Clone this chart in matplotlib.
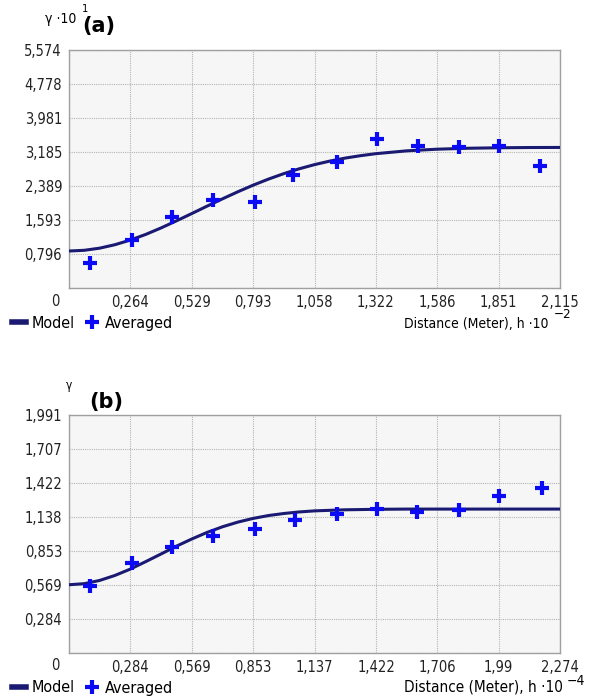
import matplotlib
matplotlib.use('Agg')
import matplotlib.pyplot as plt
from matplotlib.lines import Line2D

plt.rcParams['font.family'] = ['DejaVu Sans']
plt.rcParams['font.stretch'] = 'condensed'

# (a) lag distance in 10^-2 m, semivariance in 10^1
a_lag = [0.090, 0.270, 0.442, 0.621, 0.800, 0.966, 1.153, 1.325, 1.504, 1.679, 1.853, 2.031]
a_avg = [0.578, 1.124, 1.669, 2.060, 2.006, 2.646, 2.942, 3.488, 3.332, 3.294, 3.332, 2.863]
a_model_h = [0, 0.066, 0.132, 0.198, 0.264, 0.331, 0.397, 0.463, 0.529, 0.595, 0.661,
             0.727, 0.793, 0.859, 0.925, 0.991, 1.058, 1.124, 1.190, 1.256, 1.322,
             1.454, 1.586, 1.719, 1.851, 1.983, 2.115]
a_model = [0.866, 0.883, 0.933, 1.014, 1.123, 1.256, 1.408, 1.573, 1.744, 1.918, 2.088,
           2.253, 2.408, 2.550, 2.678, 2.791, 2.890, 2.973, 3.043, 3.099, 3.146,
           3.212, 3.251, 3.273, 3.284, 3.290, 3.292]
a_xticks = [0, 0.264, 0.529, 0.793, 1.058, 1.322, 1.586, 1.851, 2.115]
a_xlabels = ['', '0,264', '0,529', '0,793', '1,058', '1,322', '1,586', '1,851', '2,115']
a_yticks = [0, 0.796, 1.593, 2.389, 3.185, 3.981, 4.778, 5.574]
a_ylabels = ['', '0,796', '1,593', '2,389', '3,185', '3,981', '4,778', '5,574']

# (b) lag distance in 10^-4 m
b_lag = [0.097, 0.290, 0.476, 0.668, 0.861, 1.047, 1.240, 1.425, 1.613, 1.806, 1.993, 2.189]
b_avg = [0.557, 0.753, 0.883, 0.975, 1.040, 1.115, 1.163, 1.207, 1.176, 1.199, 1.316, 1.380]
b_model_h = [0, 0.071, 0.142, 0.213, 0.284, 0.356, 0.427, 0.498, 0.569, 0.640, 0.711,
             0.782, 0.853, 0.924, 0.995, 1.066, 1.137, 1.279, 1.422, 1.564, 1.706,
             1.848, 1.990, 2.132, 2.274]
b_model = [0.571, 0.580, 0.607, 0.649, 0.702, 0.765, 0.829, 0.894, 0.954, 1.009, 1.056,
           1.095, 1.126, 1.150, 1.167, 1.180, 1.189, 1.198, 1.202, 1.204, 1.204,
           1.204, 1.204, 1.204, 1.204]
b_xticks = [0, 0.284, 0.569, 0.853, 1.137, 1.422, 1.706, 1.99, 2.274]
b_xlabels = ['', '0,284', '0,569', '0,853', '1,137', '1,422', '1,706', '1,99', '2,274']
b_yticks = [0, 0.284, 0.569, 0.853, 1.138, 1.422, 1.707, 1.991]
b_ylabels = ['', '0,284', '0,569', '0,853', '1,138', '1,422', '1,707', '1,991']

W, H = 592, 698
fig = plt.figure(figsize=(W / 100, H / 100), dpi=100)

model_col = '#1a1a72'
pt_col = '#0a0af5'
fs = 10.5


def panel(top, lag, avg, mh, mv, xt, xl, yt, yl):
    ax = fig.add_axes([69 / W, 1 - (top + 238) / H, 491 / W, 238 / H])
    ax.set_facecolor('#f6f6f6')
    ax.plot(mh, mv, color=model_col, lw=2.2, zorder=3)
    ax.plot(lag, avg, ls='none', marker='+', ms=10, mew=3, color=pt_col, zorder=4)
    ax.set_xlim(xt[0], xt[-1])
    ax.set_ylim(yt[0], yt[-1])
    ax.set_xticks(xt)
    ax.set_xticklabels(xl)
    ax.set_yticks(yt)
    ax.set_yticklabels(yl)
    ax.tick_params(length=0, labelsize=fs, pad=5, colors='#222222')
    ax.grid(True, ls=(0, (1, 1)), lw=0.8, color='#b4b4b4')
    ax.set_axisbelow(True)
    for s in ax.spines.values():
        s.set_color('#a0a0a0')
        s.set_linewidth(1)
    ax.text(-14 / 491, -13 / 238, '0', transform=ax.transAxes, ha='center',
            va='center', fontsize=fs, color='#222222')
    handles = [Line2D([], [], color=model_col, lw=4),
               Line2D([], [], ls='none', marker='+', ms=10, mew=3, color=pt_col)]
    fig.legend(handles, ['Model', 'Averaged'], loc='center left',
               bbox_to_anchor=(12 / W, 1 - (top + 273) / H), ncol=2, frameon=False,
               fontsize=11.5, handlelength=0.9, handletextpad=0.35, columnspacing=0.6,
               borderpad=0, borderaxespad=0)
    return ax


panel(50, a_lag, a_avg, a_model_h, a_model, a_xticks, a_xlabels, a_yticks, a_ylabels)
panel(415, b_lag, b_avg, b_model_h, b_model, b_xticks, b_xlabels, b_yticks, b_ylabels)

# axis captions
fig.text(549 / W, 1 - 324 / H, 'Distance (Meter), h \u00b710', ha='right', va='center', fontsize=10)
fig.text(554 / W, 1 - 315 / H, '\u22122', ha='left', va='center', fontsize=9.5)
fig.text(563 / W, 1 - 687 / H, 'Distance (Meter), h \u00b710', ha='right', va='center', fontsize=11)
fig.text(567 / W, 1 - 681 / H, '\u22124', ha='left', va='center', fontsize=10)

fig.text(45 / W, 1 - 19 / H, '\u03b3 \u00b710', ha='left', va='center', fontsize=10)
fig.text(82 / W, 1 - 9 / H, '1', ha='left', va='center', fontsize=8)
fig.text(82 / W, 1 - 26 / H, '(a)', ha='left', va='center', fontsize=15,
         fontweight='bold', stretch='normal')
fig.text(66 / W, 1 - 386 / H, '\u03b3', ha='left', va='center', fontsize=8.5)
fig.text(89 / W, 1 - 402 / H, '(b)', ha='left', va='center', fontsize=15,
         fontweight='bold', stretch='normal')

plt.savefig('out.png', dpi=100)
